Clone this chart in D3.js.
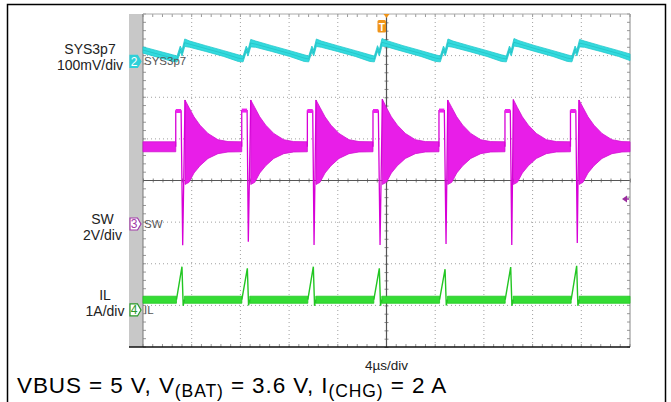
<!DOCTYPE html>
<html><head><meta charset="utf-8">
<script src="https://cdn.jsdelivr.net/npm/d3@7"></script>
<style>
body{margin:0;background:#fff}
svg{display:block}
text{font-family:"Liberation Sans",Arial,Helvetica,sans-serif}
</style>
</head><body>
<svg id="c" width="671" height="402"></svg>
<script>
// ---------------- DATA ----------------
const timeDomain = [0, 40];              // µs, 10 div × 4 µs/div
const divDomain = [-4, 4];               // vertical divisions
const majorTimes = [0, 4, 8, 12, 16, 20, 24, 28, 32, 36, 40];
const majorDivs = [-4, -3, -2, -1, 0, 1, 2, 3, 4];

const channelNames = ["SYS3p7", "SW", "IL"];
const channelScales = ["100mV/div", "2V/div", "1A/div"];
const channelIds = ["2", "3", "4"];
const timeLabel = "4µs/div";

// CH2 SYS3p7 (mV relative to channel marker), noisy band upper/lower
const sysT  = [0, 2.43, 2.80, 3.06, 3.21, 3.43, 3.84, 5.15, 6.63, 7.82, 8.22, 8.48, 8.63, 8.85, 9.26, 10.57, 12.05, 13.24, 13.61, 13.87, 14.02, 14.24, 14.65, 15.96, 17.44, 18.63, 19.00, 19.26, 19.41, 19.63, 20.04, 21.35, 22.83, 24.02, 24.42, 24.68, 24.83, 25.05, 25.46, 26.77, 28.25, 29.44, 29.84, 30.10, 30.25, 30.47, 30.88, 32.19, 33.67, 34.86, 35.23, 35.49, 35.64, 35.86, 36.27, 37.58, 39.06, 40];
const sysHi = [35, 16, 13, 37, 28, 54, 49, 38, 26, 16, 13, 37, 28, 53, 49, 38, 26, 16, 13, 37, 28, 54, 49, 38, 26, 16, 13, 38, 28, 55, 50, 38, 26, 16, 13, 37, 28, 54, 49, 38, 26, 16, 13, 37, 28, 55, 50, 38, 26, 16, 13, 37, 28, 53, 49, 38, 26, 18];
const sysLo = [20, 0, -1, 23, 13, 36, 34, 24, 12, 0, -1, 23, 13, 35, 34, 24, 12, 0, -1, 23, 13, 36, 34, 24, 12, 0, -1, 24, 13, 37, 35, 24, 12, 0, -1, 23, 13, 36, 34, 24, 12, 0, -1, 23, 13, 37, 35, 24, 12, 0, -1, 23, 13, 35, 34, 24, 12, 2];

// CH3 SW (V): switching events
const swEdge  = [2.69, 8.11, 13.50, 18.89, 24.31, 29.73, 35.11];
const swFall  = [3.13, 8.55, 13.94, 19.33, 24.75, 30.17, 35.55];
const swDip   = [3.26, 8.65, 14.05, 19.47, 24.89, 30.29, 35.67];
const swRing  = [3.45, 8.85, 14.21, 19.66, 25.03, 30.42, 35.81];
const swIdleV = [3.71, 3.71, 3.71, 3.71, 3.71, 3.71, 3.71];
const swTopV  = [5.43, 5.45, 5.43, 5.43, 5.45, 5.43, 5.43];
const swDipV  = [-1.02, -0.85, -1.01, -1.01, -0.96, -1.01, -0.91];
const swRingV = [5.96, 5.96, 5.96, 6.00, 5.96, 5.98, 5.96];
// CH3 SW ringing / noise envelope (null = break)
const swBandT  = [0, 2.69, null, 3.45, 3.78, 4.19, 4.68, 5.34, 6.16, 6.98, 8.11, null, 8.85, 9.18, 9.59, 10.08, 10.74, 11.56, 12.38, 13.50, null, 14.21, 14.54, 14.95, 15.44, 16.10, 16.92, 17.74, 18.89, null, 19.66, 19.99, 20.40, 20.89, 21.55, 22.37, 23.19, 24.31, null, 25.03, 25.36, 25.77, 26.26, 26.92, 27.74, 28.56, 29.73, null, 30.42, 30.75, 31.16, 31.65, 32.31, 33.13, 33.95, 35.11, null, 35.81, 36.14, 36.55, 37.04, 37.70, 38.52, 39.34, 40];
const swBandHi = [3.95, 3.95, null, 5.96, 5.60, 5.15, 4.75, 4.35, 4.05, 3.96, 3.95, null, 5.96, 5.60, 5.15, 4.75, 4.35, 4.05, 3.96, 3.95, null, 5.96, 5.60, 5.15, 4.75, 4.35, 4.05, 3.96, 3.95, null, 6.00, 5.60, 5.15, 4.75, 4.35, 4.05, 3.96, 3.95, null, 5.96, 5.60, 5.15, 4.75, 4.35, 4.05, 3.96, 3.95, null, 5.98, 5.60, 5.15, 4.75, 4.35, 4.05, 3.96, 3.95, null, 5.96, 5.60, 5.15, 4.75, 4.35, 4.05, 3.96, 3.95];
const swBandLo = [3.47, 3.47, null, 1.90, 2.00, 2.45, 2.80, 3.15, 3.38, 3.46, 3.47, null, 1.90, 2.00, 2.45, 2.80, 3.15, 3.38, 3.46, 3.47, null, 1.90, 2.00, 2.45, 2.80, 3.15, 3.38, 3.46, 3.47, null, 1.90, 2.00, 2.45, 2.80, 3.15, 3.38, 3.46, 3.47, null, 1.90, 2.00, 2.45, 2.80, 3.15, 3.38, 3.46, 3.47, null, 1.90, 2.00, 2.45, 2.80, 3.15, 3.38, 3.46, 3.47, null, 1.90, 2.00, 2.45, 2.80, 3.15, 3.38, 3.46, 3.47];

// CH4 IL (A): current pulses
const ilRise  = [2.75, 8.12, 13.54, 18.96, 24.36, 29.75, 35.17];
const ilPeak  = [3.20, 8.57, 13.99, 19.41, 24.81, 30.20, 35.62];
const ilPeakV = [1.04, 1.00, 1.04, 1.00, 0.98, 1.03, 1.06];
const ilDrop  = [3.30, 8.67, 14.09, 19.51, 24.91, 30.30, 35.72];
const ilDropV = [0.10, 0.11, 0.10, 0.10, 0.11, 0.10, 0.10];
const ilBack  = [3.40, 8.77, 14.19, 19.61, 25.01, 30.40, 35.82];
const ilBaseV = [0.25, 0.25, 0.25, 0.25, 0.25, 0.25, 0.25];
const ilBandT  = [0, 2.75, null, 3.40, 8.12, null, 8.77, 13.54, null, 14.19, 18.96, null, 19.61, 24.36, null, 25.01, 29.75, null, 30.40, 35.17, null, 35.82, 40];
const ilBandHi = [0.33, 0.33, null, 0.33, 0.33, null, 0.33, 0.33, null, 0.33, 0.33, null, 0.33, 0.33, null, 0.33, 0.33, null, 0.33, 0.33, null, 0.33, 0.33];
const ilBandLo = [0.16, 0.16, null, 0.16, 0.16, null, 0.16, 0.16, null, 0.16, 0.16, null, 0.16, 0.16, null, 0.16, 0.16, null, 0.16, 0.16, null, 0.16, 0.16];

// ---------------- LAYOUT ----------------
const P = {l: 143, r: 630, t: 14, b: 347};
const off = {c2: 2.86, c3: -1.045, c4: -3.11};   // channel ground markers (div)
const perDiv = {c2: 100, c3: 2, c4: 1};

const svg = d3.select("#c");
const x = d3.scaleLinear().domain(timeDomain).range([P.l, P.r]);
const yd = d3.scaleLinear().domain(divDomain).range([P.b, P.t]);
const chScale = k => d3.scaleLinear()
  .domain([(divDomain[0] - off[k]) * perDiv[k], (divDomain[1] - off[k]) * perDiv[k]])
  .range([P.b, P.t]);
const y2 = chScale("c2"), y3 = chScale("c3"), y4 = chScale("c4");

// outer frame
svg.append("rect").attr("x", 7.5).attr("y", 4.5).attr("width", 658).attr("height", 420)
  .attr("fill", "none").attr("stroke", "#000").attr("stroke-width", 1.5);

// grey strip
svg.append("rect").attr("x", 129).attr("y", P.t).attr("width", P.l - 129).attr("height", P.b - P.t)
  .attr("fill", "#c8c8c8");

// grid
const g = svg.append("g");
const minorT = d3.range(0, 40.001, 0.8);
const minorD = d3.range(-4, 4.001, 0.2);
majorTimes.filter(t => t > 0 && t < 40 && t !== 20).forEach(t => {
  g.append("line").attr("x1", x(t)).attr("x2", x(t)).attr("y1", P.t).attr("y2", P.b)
    .attr("stroke", "#a0a0a0").attr("stroke-dasharray", "1,3");
});
majorDivs.filter(d => d > -4 && d < 4 && d !== 0).forEach(d => {
  g.append("line").attr("x1", P.l).attr("x2", P.r).attr("y1", yd(d)).attr("y2", yd(d))
    .attr("stroke", "#a0a0a0").attr("stroke-dasharray", "1,3");
});
const edgeTick = (tx, ty, dx, dy) => g.append("line")
  .attr("x1", tx).attr("y1", ty).attr("x2", tx + dx).attr("y2", ty + dy)
  .attr("stroke", "#999").attr("stroke-width", 1);
minorT.forEach(t => { edgeTick(x(t), P.t, 0, 3); edgeTick(x(t), P.b, 0, -3); });
minorD.forEach(d => { edgeTick(P.l, yd(d), 3, 0); edgeTick(P.r, yd(d), -3, 0); });

const axH = d3.axisBottom(x).tickValues(minorT).tickSize(4).tickFormat("").tickSizeOuter(0);
g.append("g").attr("transform", `translate(0,${yd(0) - 2})`).call(axH)
  .call(a => a.select(".domain").remove())
  .call(a => a.selectAll("line").attr("stroke", "#888"));
const axV = d3.axisRight(yd).tickValues(minorD).tickSize(4).tickFormat("").tickSizeOuter(0);
g.append("g").attr("transform", `translate(${x(20) - 2},0)`).call(axV)
  .call(a => a.select(".domain").remove())
  .call(a => a.selectAll("line").attr("stroke", "#888"));
g.append("line").attr("x1", P.l).attr("x2", P.r).attr("y1", yd(0)).attr("y2", yd(0))
  .attr("stroke", "#555").attr("stroke-width", 1.2);
g.append("line").attr("x1", x(20)).attr("x2", x(20)).attr("y1", P.t).attr("y2", P.b)
  .attr("stroke", "#555").attr("stroke-width", 1.2);

g.append("line").attr("x1", P.l).attr("x2", P.l).attr("y1", P.t).attr("y2", P.b).attr("stroke", "#777");
g.append("line").attr("x1", P.r).attr("x2", P.r).attr("y1", P.t).attr("y2", P.b).attr("stroke", "#888");
g.append("line").attr("x1", P.l).attr("x2", P.r).attr("y1", P.t).attr("y2", P.t).attr("stroke", "#aaa");
g.append("line").attr("x1", 129).attr("x2", P.r).attr("y1", P.b).attr("y2", P.b).attr("stroke", "#111").attr("stroke-width", 1.6);

// ---------------- TRACES ----------------
const sysData = sysT.map((t, i) => ({t, hi: sysHi[i], lo: sysLo[i]}));
svg.append("path").datum(sysData)
  .attr("d", d3.area().x(d => x(d.t)).y0(d => y2(d.lo)).y1(d => y2(d.hi)))
  .attr("fill", "#33dade").attr("stroke", "#22c8cc").attr("stroke-width", 0.8);
svg.append("path").datum(sysData)
  .attr("d", d3.line().x(d => x(d.t)).y(d => y2((d.hi + d.lo) / 2)))
  .attr("fill", "none").attr("stroke", "#17a9ad").attr("stroke-width", 0.8).attr("opacity", 0.5);

const swBand = swBandT.map((t, i) => ({t, hi: swBandHi[i], lo: swBandLo[i]}));
svg.append("path").datum(swBand)
  .attr("d", d3.area().defined(d => d.t !== null).x(d => x(d.t)).y0(d => y3(d.lo)).y1(d => y3(d.hi)))
  .attr("fill", "#e81ee8").attr("stroke", "#d010d0").attr("stroke-width", 0.8);
swEdge.forEach((e, i) => {
  const tri = [[swFall[i], swTopV[i]], [swDip[i], swDipV[i]], [swRing[i], swRingV[i]]];
  svg.append("path").datum(tri)
    .attr("d", d3.line().x(d => x(d[0])).y(d => y3(d[1])) + "Z")
    .attr("fill", "#e4a6ea").attr("stroke", "none");
  const pts = [[e, swIdleV[i]], [e, swTopV[i]], [swFall[i], swTopV[i]], [swDip[i], swDipV[i]], [swRing[i], swRingV[i]]];
  svg.append("path").datum(pts)
    .attr("d", d3.line().x(d => x(d[0])).y(d => y3(d[1])))
    .attr("fill", "none").attr("stroke", "#d700d7").attr("stroke-width", 1.3);
  svg.append("line").attr("x1", x(e)).attr("x2", x(swFall[i]))
    .attr("y1", y3(swTopV[i])).attr("y2", y3(swTopV[i]))
    .attr("stroke", "#ee22ee").attr("stroke-width", 4);
});

const ilBand = ilBandT.map((t, i) => ({t, hi: ilBandHi[i], lo: ilBandLo[i]}));
svg.append("path").datum(ilBand)
  .attr("d", d3.area().defined(d => d.t !== null).x(d => x(d.t)).y0(d => y4(d.lo)).y1(d => y4(d.hi)))
  .attr("fill", "#34dc34").attr("stroke", "#22c822").attr("stroke-width", 0.8);
ilRise.forEach((r, i) => {
  const pts = [[r, ilBaseV[i]], [ilPeak[i], ilPeakV[i]], [ilDrop[i], ilDropV[i]], [ilBack[i], ilBaseV[i]]];
  svg.append("path").datum(pts)
    .attr("d", d3.line().x(d => x(d[0])).y(d => y4(d[1])))
    .attr("fill", "none").attr("stroke", "#22c622").attr("stroke-width", 1.4);
});

// ---------------- MARKERS ----------------
function marker(cy, fill, stroke, txtColor, label) {
  const m = svg.append("g");
  const d = `M130,${cy - 6} L137.5,${cy - 6} L141,${cy} L137.5,${cy + 6} L130,${cy + 6} Z`;
  m.append("path").attr("d", d).attr("fill", fill).attr("stroke", stroke).attr("stroke-width", 1.2);
  m.append("text").attr("x", 134.2).attr("y", cy + 4.5).attr("text-anchor", "middle")
    .attr("font-size", 12).attr("fill", txtColor).text(label);
}
marker(yd(off.c2), "#2fd0d8", "#2fd0d8", "#fff", channelIds[0]);
marker(yd(off.c3), "#fff", "#a23aa8", "#a23aa8", channelIds[1]);
marker(yd(off.c4), "#fff", "#2a9a2a", "#2a9a2a", channelIds[2]);

const tagY = [yd(off.c2), yd(off.c3), yd(off.c4)];
channelNames.forEach((n, i) => {
  svg.append("text").attr("x", 144).attr("y", tagY[i] + 4)
    .attr("font-family", "'Liberation Sans Narrow','Liberation Sans',sans-serif")
    .attr("font-size", 11.5).attr("fill", "#555").text(n);
});

svg.append("path").attr("d", `M${x(20) - 3},${P.t} L${x(20) + 3},${P.t} L${x(20)},${P.t + 4} Z`).attr("fill", "#f09418");
svg.append("rect").attr("x", x(20) - 9).attr("y", 20).attr("width", 8.5).attr("height", 12.5).attr("rx", 1.5)
  .attr("fill", "#f09418");
svg.append("text").attr("x", x(20) - 4.75).attr("y", 30.5).attr("text-anchor", "middle")
  .attr("font-size", 10).attr("font-weight", "bold").attr("fill", "#fff").text("T");

svg.append("path").attr("d", `M${P.r - 8},${yd(0) + 18.5} L${P.r - 3},${yd(0) + 15} L${P.r - 3},${yd(0) + 22} Z`).attr("fill", "#9a2c9e");
svg.append("line").attr("x1", P.r - 4).attr("x2", P.r - 1).attr("y1", yd(0) + 18.5).attr("y2", yd(0) + 18.5).attr("stroke", "#9a2c9e").attr("stroke-width", 1.5);

// ---------------- LABELS ----------------
const lab = [
  {n: channelNames[0], s: channelScales[0], cx: 90, y1: 53.5, y2: 70},
  {n: channelNames[1], s: channelScales[1], cx: 102.5, y1: 223.5, y2: 239.5},
  {n: channelNames[2], s: channelScales[2], cx: 105, y1: 300, y2: 316}
];
lab.forEach(l => {
  svg.append("text").attr("x", l.cx).attr("y", l.y1).attr("text-anchor", "middle")
    .attr("font-size", 14).attr("fill", "#222").text(l.n);
  svg.append("text").attr("x", l.cx).attr("y", l.y2).attr("text-anchor", "middle")
    .attr("font-size", 14).attr("fill", "#222").text(l.s);
});
svg.append("text").attr("x", x(20)).attr("y", 370).attr("text-anchor", "middle")
  .attr("font-size", 13.5).attr("fill", "#222").text(timeLabel);

const cap = svg.append("text").attr("x", 17).attr("y", 393).attr("font-size", 22.5)
  .attr("letter-spacing", 0.9).attr("fill", "#000");
cap.append("tspan").text("VBUS = 5 V, V");
cap.append("tspan").attr("font-size", 17.5).attr("dy", 3.5).text("(BAT)");
cap.append("tspan").attr("dy", -3.5).text(" = 3.6 V, I");
cap.append("tspan").attr("font-size", 17.5).attr("dy", 3.5).text("(CHG)");
cap.append("tspan").attr("dy", -3.5).text(" = 2 A");
</script>
</body></html>
